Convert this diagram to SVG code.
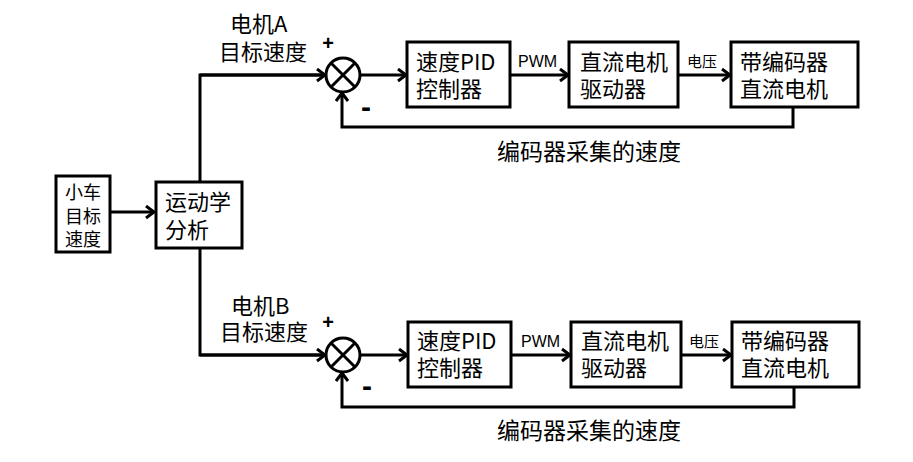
<svg xmlns="http://www.w3.org/2000/svg" width="913" height="462" viewBox="0 0 913 462">
<style>
.box{fill:#fff;stroke:#000;stroke-width:3}
.ln{fill:none;stroke:#000;stroke-width:3}
.arr{marker-end:url(#ah)}
.t{font-family:"Noto Sans CJK SC","Noto Sans",sans-serif;font-size:22px;fill:#000}
.tb{font-family:"Noto Sans CJK SC","Noto Sans",sans-serif;font-size:23px;fill:#000}
.ts{font-family:"Noto Sans CJK SC","Noto Sans",sans-serif;font-size:18px;fill:#000}
.tl{font-family:"Noto Sans CJK SC","Noto Sans",sans-serif;font-size:15px;fill:#000}
.tp{font-family:"Liberation Sans",Arial,sans-serif;font-size:16px;fill:#000}
.sg{font-family:"Liberation Sans",Arial,sans-serif;font-weight:bold;fill:#000}
</style>
<defs>
<marker id="ah" markerUnits="userSpaceOnUse" markerWidth="14" markerHeight="16" refX="9" refY="7" orient="auto" viewBox="0 0 14 16">
<path d="M1,1 L9,7 L1,13" fill="none" stroke="#000" stroke-width="3" stroke-linejoin="miter"/>
</marker>
</defs>
<rect width="913" height="462" fill="#fff"/>

<g id="connectors">
<line class="ln arr" x1="110" y1="212" x2="154" y2="212"/>
<polyline class="ln" points="200,182 200,75 325,75"/>
<line class="ln arr" x1="200" y1="75" x2="325" y2="75"/>
<polyline class="ln" points="200,248 200,355 325,355"/>
<line class="ln arr" x1="200" y1="355" x2="325" y2="355"/>
<line class="ln arr" x1="360" y1="75" x2="406" y2="75"/>
<line class="ln arr" x1="510" y1="75" x2="568" y2="75"/>
<line class="ln arr" x1="678" y1="75" x2="730" y2="75"/>
<polyline class="ln arr" points="793,107 793,127 342,127 342,93"/>
<line class="ln arr" x1="360" y1="355" x2="407" y2="355"/>
<line class="ln arr" x1="511" y1="355" x2="570" y2="355"/>
<line class="ln arr" x1="681" y1="355" x2="731" y2="355"/>
<polyline class="ln arr" points="794,387 794,407 342,407 342,373"/>
<text class="tp" x="518" y="67">PWM</text>
<text class="tl" x="687" y="67">电压</text>
<text class="tp" x="521" y="347">PWM</text>
<text class="tl" x="689" y="347">电压</text>
<text class="tb" x="497" y="160">编码器采集的速度</text>
<text class="tb" x="497" y="439">编码器采集的速度</text>
</g>

<g id="car-target">
<rect class="box" x="56" y="176" width="54" height="76"/>
<text class="ts" x="83" y="199" text-anchor="middle">小车</text>
<text class="ts" x="83" y="223" text-anchor="middle">目标</text>
<text class="ts" x="83" y="246" text-anchor="middle">速度</text>
</g>

<g id="kinematics">
<rect class="box" x="156" y="182" width="86" height="66"/>
<text class="t" x="165" y="210">运动学</text>
<text class="t" x="165" y="238">分析</text>
</g>

<g id="label-a">
<text class="t" x="230" y="32">电机A</text>
<text class="t" x="219" y="60">目标速度</text>
</g>

<g id="sum-a">
<circle cx="343" cy="75" r="17" fill="#fff" stroke="#000" stroke-width="3"/>
<line class="ln" x1="331" y1="63" x2="355" y2="87"/>
<line class="ln" x1="355" y1="63" x2="331" y2="87"/>
<text class="sg" x="328" y="50" font-size="20" text-anchor="middle">+</text>
<text class="sg" x="366" y="117" font-size="30" text-anchor="middle">-</text>
</g>

<g id="pid-a">
<rect class="box" x="407" y="42" width="103" height="65"/>
<text class="t" x="416" y="70">速度PID</text>
<text class="t" x="416" y="97">控制器</text>
</g>

<g id="driver-a">
<rect class="box" x="569" y="42" width="109" height="65"/>
<text class="t" x="580" y="70">直流电机</text>
<text class="t" x="580" y="97">驱动器</text>
</g>

<g id="motor-a">
<rect class="box" x="731" y="42" width="127" height="65"/>
<text class="t" x="740" y="70">带编码器</text>
<text class="t" x="740" y="97">直流电机</text>
</g>

<g id="label-b">
<text class="t" x="231" y="314">电机B</text>
<text class="t" x="220" y="340">目标速度</text>
</g>

<g id="sum-b">
<circle cx="343" cy="355" r="17" fill="#fff" stroke="#000" stroke-width="3"/>
<line class="ln" x1="331" y1="343" x2="355" y2="367"/>
<line class="ln" x1="355" y1="343" x2="331" y2="367"/>
<text class="sg" x="328" y="329" font-size="20" text-anchor="middle">+</text>
<text class="sg" x="367" y="396" font-size="30" text-anchor="middle">-</text>
</g>

<g id="pid-b">
<rect class="box" x="408" y="322" width="103" height="65"/>
<text class="t" x="417" y="349">速度PID</text>
<text class="t" x="417" y="376">控制器</text>
</g>

<g id="driver-b">
<rect class="box" x="571" y="322" width="110" height="65"/>
<text class="t" x="581" y="349">直流电机</text>
<text class="t" x="581" y="376">驱动器</text>
</g>

<g id="motor-b">
<rect class="box" x="732" y="322" width="127" height="65"/>
<text class="t" x="741" y="349">带编码器</text>
<text class="t" x="741" y="376">直流电机</text>
</g>
</svg>
